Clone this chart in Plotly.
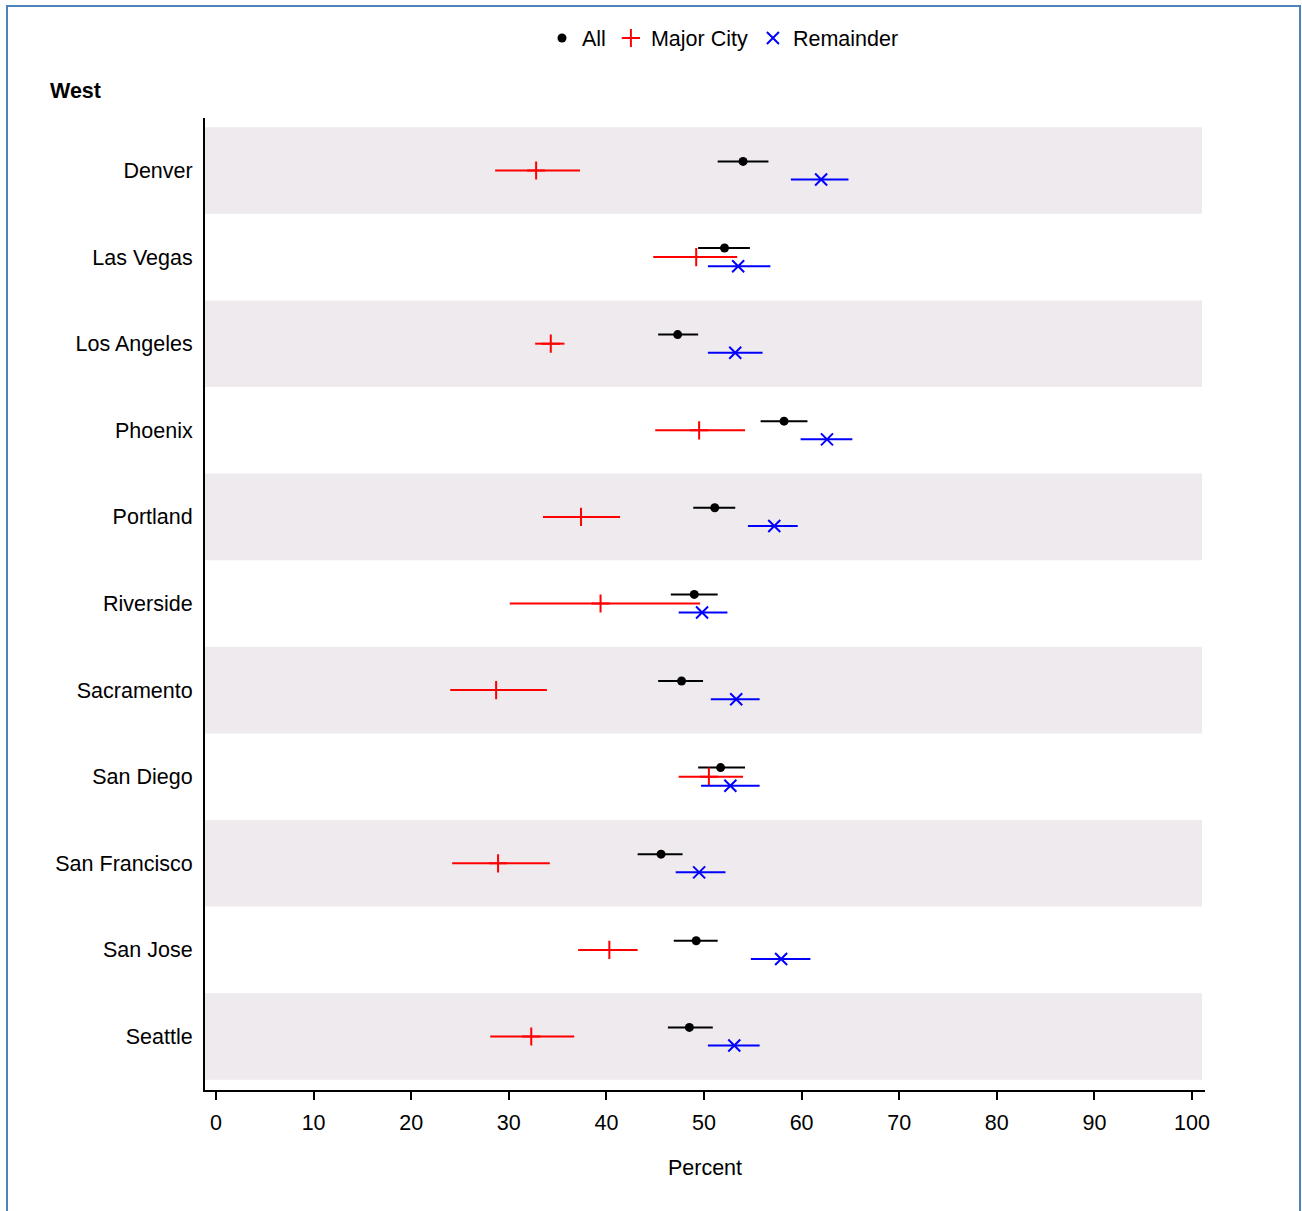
import plotly.graph_objects as go

# Cities (top to bottom)
cities = ["Denver", "Las Vegas", "Los Angeles", "Phoenix", "Portland", "Riverside",
          "Sacramento", "San Diego", "San Francisco", "San Jose", "Seattle"]

# Estimates with lower / upper confidence limits (percent)
all_est = [54.0, 52.1, 47.3, 58.2, 51.1, 49.0, 47.7, 51.7, 45.6, 49.2, 48.5]
all_lo = [51.4, 49.4, 45.3, 55.8, 48.9, 46.6, 45.3, 49.4, 43.2, 46.9, 46.3]
all_hi = [56.6, 54.7, 49.4, 60.6, 53.2, 51.4, 49.9, 54.2, 47.8, 51.4, 50.9]

major_est = [32.8, 49.2, 34.3, 49.5, 37.4, 39.4, 28.7, 50.5, 28.9, 40.3, 32.3]
major_lo = [28.6, 44.8, 32.7, 45.0, 33.5, 30.1, 24.0, 47.4, 24.2, 37.1, 28.1]
major_hi = [37.3, 53.4, 35.7, 54.2, 41.4, 49.6, 33.9, 54.0, 34.2, 43.2, 36.7]

rem_est = [62.0, 53.5, 53.2, 62.6, 57.2, 49.8, 53.3, 52.7, 49.5, 57.9, 53.1]
rem_lo = [58.9, 50.4, 50.4, 59.9, 54.5, 47.4, 50.7, 49.7, 47.1, 54.8, 50.4]
rem_hi = [64.8, 56.8, 56.0, 65.2, 59.6, 52.4, 55.7, 55.7, 52.2, 60.9, 55.7]

x_ticks = list(range(0, 101, 10))

FONT = "Liberation Sans, Arial, sans-serif"
FS = 21.5

pos = list(range(len(cities)))
offset = 0.105

fig = go.Figure()


def add_series(name, est, lo, hi, shift, color, symbol, size, lw):
    fig.add_trace(go.Scatter(
        x=est,
        y=[p + shift for p in pos],
        mode="markers",
        name=name,
        marker=dict(symbol=symbol, size=size, color=color,
                    line=dict(width=lw, color=color)),
        error_x=dict(type="data", symmetric=False,
                     array=[h - e for h, e in zip(hi, est)],
                     arrayminus=[e - l for e, l in zip(est, lo)],
                     color=color, thickness=2, width=0),
    ))


add_series("All", all_est, all_lo, all_hi, -offset, "#000000", "circle", 9, 0)
add_series("Major City", major_est, major_lo, major_hi, 0, "#FF0000", "cross-thin", 13, 2)
add_series("Remainder", rem_est, rem_lo, rem_hi, offset, "#0000FF", "x-thin", 12, 2)

# Alternating row bands
shapes = []
for i in range(0, len(cities), 2):
    shapes.append(dict(type="rect", xref="paper", yref="y", x0=0, x1=0.997,
                       y0=i - 0.5, y1=i + 0.5, fillcolor="#EEEAEE",
                       line=dict(width=0), layer="below"))

# Outer frame
shapes.append(dict(type="rect", xref="paper", yref="paper",
                   x0=-0.198, x1=1.095, y0=-0.135, y1=1.1152,
                   line=dict(color="#4F81BD", width=2), fillcolor="rgba(0,0,0,0)"))

fig.update_layout(
    width=1302, height=1211,
    margin=dict(l=205, r=97, t=118, b=121),
    plot_bgcolor="white", paper_bgcolor="white",
    font=dict(family=FONT, size=FS, color="#000000"),
    shapes=shapes,
    showlegend=True,
    legend=dict(orientation="h", x=0.518, xanchor="center", y=1.0823, yanchor="middle",
                font=dict(family=FONT, size=FS, color="#000000"),
                bgcolor="rgba(0,0,0,0)"),
    annotations=[dict(text="<b>West</b>", xref="paper", yref="paper",
                      x=-0.157, y=1.0278, xanchor="left", yanchor="middle",
                      showarrow=False, font=dict(family=FONT, size=FS, color="#000000"))],
)

fig.update_xaxes(
    range=[-1.127, 101.33],
    tickvals=x_ticks, ticktext=[str(t) for t in x_ticks],
    ticks="outside", ticklen=8, tickwidth=2, tickcolor="#000000",
    ticklabelstandoff=4,
    showline=True, linecolor="#000000", linewidth=2,
    showgrid=False, zeroline=False,
    title=dict(text="Percent", font=dict(family=FONT, size=FS), standoff=26),
    tickfont=dict(family=FONT, size=FS),
)

fig.update_yaxes(
    range=[10.618, -0.606],
    tickvals=pos, ticktext=cities,
    ticks="", ticklabelstandoff=6,
    showline=True, linecolor="#000000", linewidth=2,
    showgrid=False, zeroline=False,
    tickfont=dict(family=FONT, size=FS),
)

fig.write_html("out.html")
